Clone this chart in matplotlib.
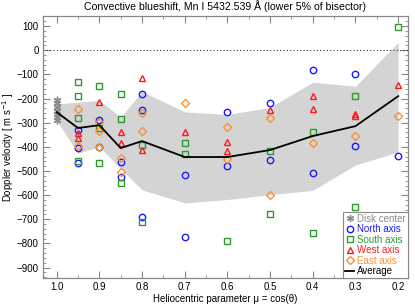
import numpy as np
import matplotlib
matplotlib.use("Agg")
import matplotlib.pyplot as plt
from matplotlib.ticker import MultipleLocator
from matplotlib.lines import Line2D

plt.rcParams['font.family'] = ['Liberation Sans', 'DejaVu Sans']

# ---- data ----
disk_mu = 1.0
disk_vals = [-205, -220, -235, -250, -262, -275, -288]

north = {0.95: [-330, -405, -465], 0.9: [-290, -400], 0.85: [-463, -525],
         0.8: [-182, -248, -690], 0.7: [-517, -773], 0.6: [-256, -479],
         0.5: [-219, -455], 0.4: [-83, -508], 0.3: [-99, -397], 0.2: [-438]}
south = {0.95: [-132, -190, -281, -460], 0.9: [-149, -320, -467],
         0.85: [-182, -285, -550], 0.8: [-393, -711], 0.7: [-384, -430],
         0.6: [-789], 0.5: [-417, -678], 0.4: [-339, -756], 0.3: [-190, -649],
         0.2: [95]}
west = {0.95: [-343, -362], 0.9: [-214], 0.85: [-339, -384], 0.8: [-116, -413],
        0.7: [-339], 0.6: [-380, -417], 0.5: [-248], 0.4: [-190, -244],
        0.3: [-265, -273], 0.2: [-145]}
east = {0.95: [-244, -397], 0.9: [-297, -335, -400], 0.85: [-446, -504],
        0.8: [-260, -335], 0.7: [-219], 0.6: [-318, -450], 0.5: [-281, -599],
        0.4: [-384], 0.3: [-355], 0.2: [-273]}

mu_avg = [1.0, 0.95, 0.9, 0.85, 0.8, 0.7, 0.6, 0.5, 0.4, 0.3, 0.2]
avg = [-256, -322, -310, -405, -376, -442, -442, -413, -355, -314, -190]
band_upper = [-222, -215, -207, -277, -170, -255, -266, -236, -132, -149, 33]
band_lower = [-292, -426, -400, -490, -578, -632, -618, -598, -580, -475, -421]

xticks = [1.0, 0.9, 0.8, 0.7, 0.6, 0.5, 0.4, 0.3, 0.2]
yticks = list(range(100, -1000, -100))

c_grey = '#8c8c8c'
c_blue = '#1a1aff'
c_green = '#2e9a2e'
c_red = '#ff1a1a'
c_orange = '#f7913a'

fig = plt.figure(figsize=(4.15, 3.06), dpi=100)
ax = fig.add_axes([43/415, 28/306, 365/415, 262/306])

ax.fill_between(mu_avg, band_lower, band_upper, color='#d4d4d4', lw=0, zorder=1)
ax.axhline(0, color='#333333', ls=(0, (1, 2)), lw=0.8, zorder=2)

def scatter(d, marker, color, ms):
    xs, ys = [], []
    for k, v in d.items():
        for y in v:
            xs.append(k); ys.append(y)
    ax.plot(xs, ys, ls='none', marker=marker, mfc='none', mec=color,
            ms=ms, mew=1.0, zorder=4)

ax.plot([disk_mu]*len(disk_vals), disk_vals, ls='none', marker=(6, 2, 0),
        mec=c_grey, ms=5.5, mew=1.0, zorder=4)
scatter(north, 'o', c_blue, 4.6)
scatter(south, 's', c_green, 4.6)
scatter(west, '^', c_red, 5.0)
scatter(east, 'D', c_orange, 3.6)
ax.plot(mu_avg, avg, color='black', lw=1.3, zorder=5)

ax.set_xlim(1.032, 0.177)
ax.set_ylim(-943, 142)
ax.set_xticks(xticks)
ax.set_xticklabels([f'{t:.1f}' for t in xticks])
ax.set_yticks(yticks)
ax.xaxis.set_minor_locator(MultipleLocator(0.05))
ax.yaxis.set_minor_locator(MultipleLocator(20))
ax.tick_params(which='both', direction='in', top=True, right=True,
               color='#888888', labelsize=7, pad=3)
ax.tick_params(which='major', length=5, width=0.8)
ax.tick_params(which='minor', length=2.5, width=0.6)
for s in ax.spines.values():
    s.set_color('#888888')
    s.set_linewidth(0.9)

ax.set_title('Convective blueshift, Mn I 5432.539 Å (lower 5% of bisector)',
             fontsize=7.6, pad=4)
ax.set_xlabel('Heliocentric parameter μ = cos(θ)', fontsize=7, labelpad=1)
ax.set_ylabel('Doppler velocity [ m s$^{-1}$ ]', fontsize=6.9)
ax.yaxis.set_label_coords(-0.074, 0.5)

handles = [
    Line2D([], [], ls='none', marker=(6, 2, 0), mec=c_grey, ms=5),
    Line2D([], [], ls='none', marker='o', mfc='none', mec=c_blue, ms=4.6, mew=1.0),
    Line2D([], [], ls='none', marker='s', mfc='none', mec=c_green, ms=4.6, mew=1.0),
    Line2D([], [], ls='none', marker='^', mfc='none', mec=c_red, ms=5, mew=1.0),
    Line2D([], [], ls='none', marker='D', mfc='none', mec=c_orange, ms=3.6, mew=1.0),
    Line2D([], [], color='black', lw=1.3),
]
labels = ['Disk center', 'North axis', 'South axis', 'West axis', 'East axis', 'Average']
leg = ax.legend(handles, labels, loc='lower right', fontsize=7, frameon=True,
                fancybox=False, edgecolor='#888888', borderpad=0.2,
                labelspacing=0.05, handlelength=1.0, handletextpad=0.3,
                borderaxespad=0.0, framealpha=1)
leg.get_frame().set_linewidth(0.8)
for t, c in zip(leg.get_texts(), [c_grey, c_blue, c_green, c_red, c_orange, 'black']):
    t.set_color(c)

fig.savefig('out.png', dpi=100)
